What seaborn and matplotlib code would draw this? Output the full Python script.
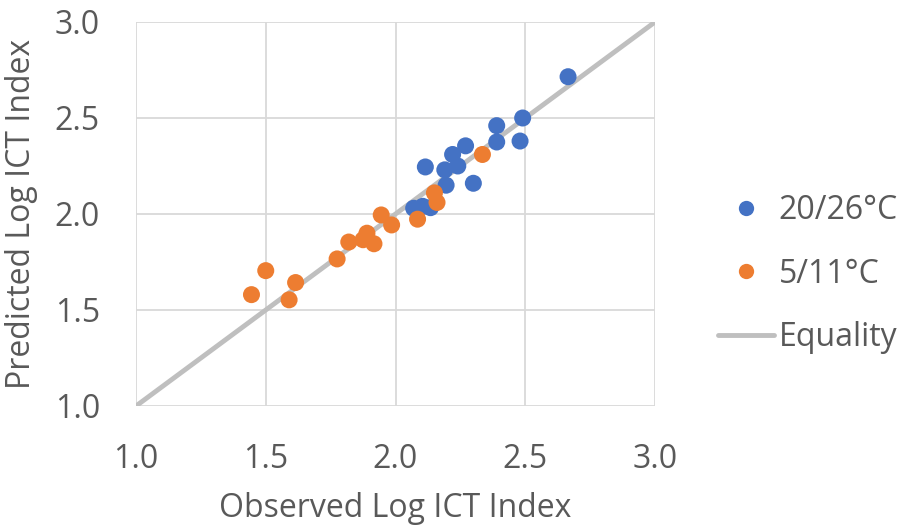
import matplotlib
matplotlib.use("Agg")
import matplotlib.pyplot as plt
import seaborn as sns
import pandas as pd
from matplotlib.lines import Line2D

warm_obs = [2.49, 2.39, 2.39, 2.48, 2.27, 2.22, 2.24, 2.115, 2.19, 2.195, 2.30, 2.07, 2.105, 2.135, 2.665]
warm_pred = [2.50, 2.46, 2.375, 2.38, 2.355, 2.31, 2.25, 2.245, 2.23, 2.15, 2.16, 2.03, 2.04, 2.033, 2.715]
cold_obs = [2.335, 2.15, 2.16, 2.085, 1.945, 1.985, 1.89, 1.875, 1.917, 1.82, 1.775, 1.50, 1.615, 1.445, 1.59]
cold_pred = [2.31, 2.11, 2.06, 1.973, 1.995, 1.943, 1.90, 1.866, 1.845, 1.854, 1.766, 1.705, 1.643, 1.58, 1.553]
equality = [1.0, 3.0]
ticks = [1.0, 1.5, 2.0, 2.5, 3.0]
series_names = ["20/26°C", "5/11°C", "Equality"]

df = pd.DataFrame({
    "obs": warm_obs + cold_obs,
    "pred": warm_pred + cold_pred,
    "group": [series_names[0]] * len(warm_obs) + [series_names[1]] * len(cold_obs),
})

sns.set_style("white")
plt.rcParams["font.family"] = ["Open Sans", "DejaVu Sans"]
text_color = "#595959"
blue, orange, gray = "#4472C4", "#ED7D31", "#BFBFBF"
FS = 23

fig = plt.figure(figsize=(9.03, 5.27), dpi=100)
ax = fig.add_axes([136 / 903, 1 - 406 / 527, 519 / 903, 384 / 527])

ax.plot(equality, equality, color=gray, lw=3.5, zorder=1, solid_capstyle="butt")
sns.scatterplot(data=df, x="obs", y="pred", hue="group", palette=[blue, orange],
                s=150, edgecolor="none", ax=ax, legend=False, zorder=3)

ax.set_xlim(1.0, 3.0)
ax.set_ylim(1.0, 3.0)
ax.set_xticks(ticks)
ax.set_yticks(ticks)
ax.set_xticklabels([f"{t:.1f}" for t in ticks])
ax.set_yticklabels([f"{t:.1f}" for t in ticks])
ax.grid(True, color="#D9D9D9", lw=1.3)
ax.set_axisbelow(True)
for s in ax.spines.values():
    s.set_visible(False)
ax.tick_params(axis="both", length=0, labelsize=FS, labelcolor=text_color)
ax.tick_params(axis="x", pad=27)
ax.tick_params(axis="y", pad=26)
ax.set_xlabel("Observed Log ICT Index", fontsize=FS, color=text_color, labelpad=11)
ax.set_ylabel("Predicted Log ICT Index", fontsize=FS, color=text_color, labelpad=12)

handles = [
    Line2D([], [], marker="o", color="none", markerfacecolor=blue, markeredgecolor="none", markersize=11),
    Line2D([], [], marker="o", color="none", markerfacecolor=orange, markeredgecolor="none", markersize=11),
    Line2D([], [], color=gray, lw=3.5),
]
leg = fig.legend(handles, series_names, loc="center left", bbox_to_anchor=(718 / 903, 1 - 274 / 527),
                 frameon=False, fontsize=FS, labelspacing=0.95, handlelength=1.75, handletextpad=0.15,
                 borderaxespad=0, borderpad=0)
for t in leg.get_texts():
    t.set_color(text_color)

fig.savefig("out.png", dpi=100)
